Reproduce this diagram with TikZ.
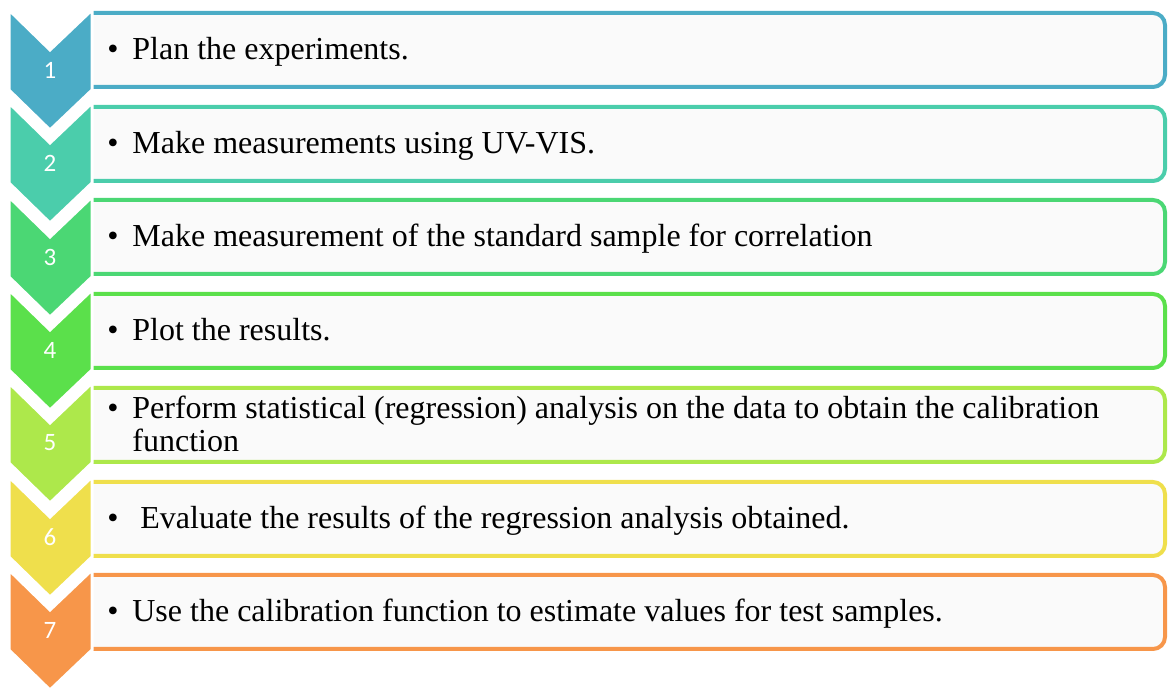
\documentclass[tikz,border=0pt]{standalone}
\usepackage{fontspec}
\setmainfont{Liberation Serif}
\newfontfamily\numfont{Carlito}
\usetikzlibrary{positioning}
\definecolor{cone}{HTML}{4BACC6}
\definecolor{ctwo}{HTML}{4BCDAB}
\definecolor{cthree}{HTML}{4BD774}
\definecolor{cfour}{HTML}{5BE04B}
\definecolor{cfive}{HTML}{ADE84B}
\definecolor{csix}{HTML}{EFDF4C}
\definecolor{cseven}{HTML}{F7964A}
\definecolor{boxfill}{HTML}{FAFAFA}
\tikzset{
  chev/.style={draw=white, line width=1.5pt, line join=miter},
  stepbox/.style={line width=2pt, fill=boxfill},
  num/.style={white, font=\numfont\fontsize{12.5}{14}\selectfont, inner sep=0pt},
  item/.style={anchor=base west, inner sep=0pt, align=left,
    font=\fontsize{16}{16.5}\selectfont},
}
\newcommand{\bul}{\makebox[12.5pt][l]{\textbullet}}

\begin{document}
\begin{tikzpicture}[x=0.5pt, y=-0.5pt]
    \useasboundingbox (0,0) rectangle (1169,689);

    % Text boxes (open on the left, where the chevrons cover them)
    \draw[stepbox, draw=cone]   (92,13)  [rounded corners=6pt] -- (1165,13)  -- (1165,87)  [sharp corners] -- (92,87);
    \draw[stepbox, draw=ctwo]   (92,107) [rounded corners=6pt] -- (1165,107) -- (1165,181) [sharp corners] -- (92,181);
    \draw[stepbox, draw=cthree] (92,200) [rounded corners=6pt] -- (1165,200) -- (1165,274) [sharp corners] -- (92,274);
    \draw[stepbox, draw=cfour]  (92,294) [rounded corners=6pt] -- (1165,294) -- (1165,368) [sharp corners] -- (92,368);
    \draw[stepbox, draw=cfive]  (92,388) [rounded corners=6pt] -- (1165,388) -- (1165,462) [sharp corners] -- (92,462);
    \draw[stepbox, draw=csix]   (92,482) [rounded corners=6pt] -- (1165,482) -- (1165,556) [sharp corners] -- (92,556);
    \draw[stepbox, draw=cseven] (92,575) [rounded corners=6pt] -- (1165,575) -- (1165,649) [sharp corners] -- (92,649);

    % Chevrons pointing down
    \draw[chev, fill=cone]   (9,10)  -- ++(41,40) -- ++(42,-40) -- ++(0,80) -- ++(-42,40) -- ++(-41,-40) -- cycle;
    \draw[chev, fill=ctwo]   (9,103) -- ++(41,40) -- ++(42,-40) -- ++(0,80) -- ++(-42,40) -- ++(-41,-40) -- cycle;
    \draw[chev, fill=cthree] (9,197) -- ++(41,40) -- ++(42,-40) -- ++(0,80) -- ++(-42,40) -- ++(-41,-40) -- cycle;
    \draw[chev, fill=cfour]  (9,290) -- ++(41,40) -- ++(42,-40) -- ++(0,80) -- ++(-42,40) -- ++(-41,-40) -- cycle;
    \draw[chev, fill=cfive]  (9,383) -- ++(41,40) -- ++(42,-40) -- ++(0,80) -- ++(-42,40) -- ++(-41,-40) -- cycle;
    \draw[chev, fill=csix]   (9,477) -- ++(41,40) -- ++(42,-40) -- ++(0,80) -- ++(-42,40) -- ++(-41,-40) -- cycle;
    \draw[chev, fill=cseven] (9,570) -- ++(41,40) -- ++(42,-40) -- ++(0,80) -- ++(-42,40) -- ++(-41,-40) -- cycle;

    % Step numbers
    \node[num] (n1) at (50,70)  {1};
    \node[num] (n2) at (50,163) {2};
    \node[num] (n3) at (50,257) {3};
    \node[num] (n4) at (50,350) {4};
    \node[num] (n5) at (50,443) {5};
    \node[num] (n6) at (50,537) {6};
    \node[num] (n7) at (50,630) {7};

    % Step texts
    \node[item] (t1) at (107,60)  {\bul Plan the experiments.};
    \node[item] (t2) at (107,154) {\bul Make measurements using UV-VIS.};
    \node[item] (t3) at (107,247) {\bul Make measurement of the standard sample for correlation};
    \node[item] (t4) at (107,341) {\bul Plot the results.};
    \node[item, anchor=west] (t5) at (107,424)
        {\bul Perform statistical (regression) analysis on the data to obtain the calibration\\
         \hspace*{12.5pt}function};
    \node[item] (t6) at (107,529) {\bul\hspace{4pt}Evaluate the results of the regression analysis obtained.};
    \node[item] (t7) at (107,622) {\bul Use the calibration function to estimate values for test samples.};
\end{tikzpicture}
\end{document}
